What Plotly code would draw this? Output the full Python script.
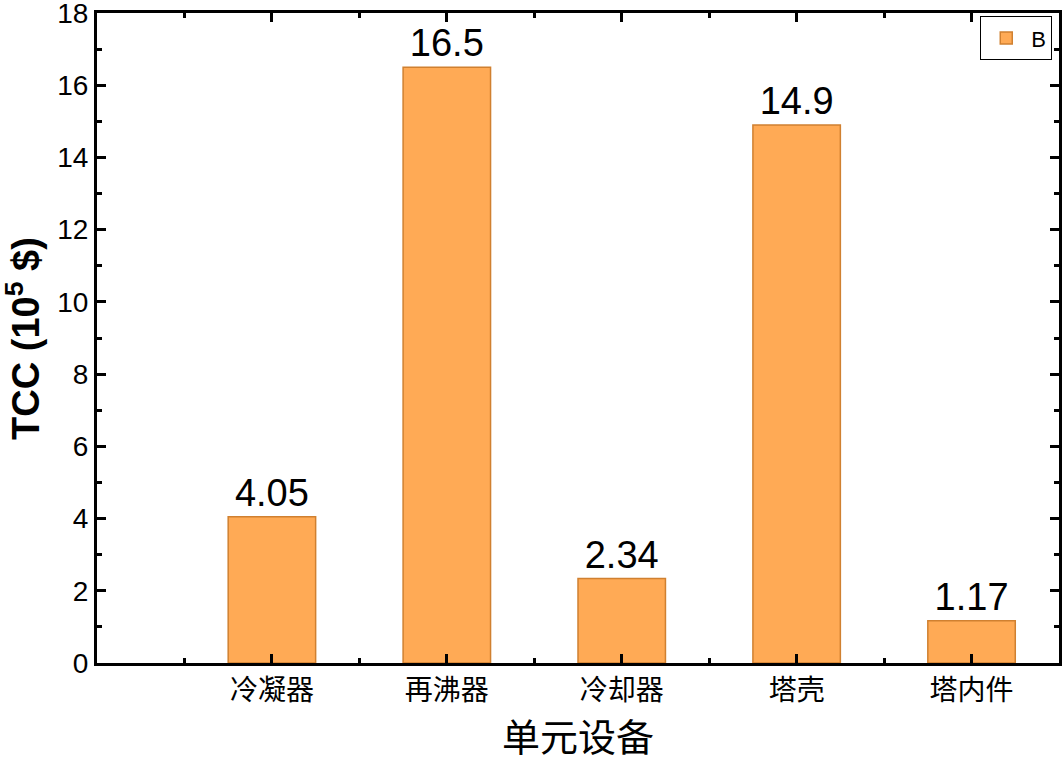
import plotly.graph_objects as go

categories = ['冷凝器', '再沸器', '冷却器', '塔壳', '塔内件']
positions = [1, 2, 3, 4, 5]
tcc = [4.05, 16.5, 2.34, 14.9, 1.17]
labels = ['4.05', '16.5', '2.34', '14.9', '1.17']

fig = go.Figure()
fig.add_trace(go.Bar(x=positions, y=tcc, name='B', width=0.5,
                     marker=dict(color='#FFAA55', line=dict(color='#D08030', width=1.5)),
                     text=labels, textposition='outside', cliponaxis=False,
                     textfont=dict(family='Liberation Sans, Arial', size=38, color='black')))

axis_common = dict(showline=True, linewidth=3, linecolor='black', mirror='ticks',
                   ticks='inside', ticklen=9, tickwidth=3, tickcolor='black',
                   showgrid=False, zeroline=False, automargin=False,
                   ticklabeloverflow='allow')

fig.update_xaxes(range=[0, 5.5], tickmode='array', tickvals=positions, ticktext=categories,
                 tickfont=dict(family='Noto Sans CJK SC', size=28, color='black'),
                 minor=dict(tickmode='array', tickvals=[0.5, 1.5, 2.5, 3.5, 4.5],
                            ticks='inside', ticklen=5, tickwidth=3, tickcolor='black'),
                 title=dict(text='单元设备', font=dict(family='Noto Sans CJK SC', size=38, color='black'),
                            standoff=22),
                 **axis_common)
fig.update_yaxes(range=[0, 18], tickmode='linear', tick0=0, dtick=2,
                 tickfont=dict(family='Liberation Sans, Arial', size=28, color='black'),
                 minor=dict(tickmode='linear', tick0=1, dtick=2,
                            ticks='inside', ticklen=5, tickwidth=3, tickcolor='black'),
                 **axis_common)

fig.add_annotation(text='<b>TCC (10<sup>5</sup> $)</b>', xref='paper', yref='paper',
                   x=-0.077, y=0.5, xanchor='center', yanchor='middle', textangle=-90,
                   showarrow=False,
                   font=dict(family='Liberation Sans, Arial', size=38, color='black'))

fig.update_layout(width=1063, height=762, plot_bgcolor='white', paper_bgcolor='white',
                  margin=dict(l=97, r=4, t=13, b=99), bargap=0.5,
                  showlegend=True,
                  legend=dict(x=0.993, y=0.995, xanchor='right', yanchor='top', itemwidth=40,
                              bordercolor='black', borderwidth=1, bgcolor='white',
                              font=dict(family='Liberation Sans, Arial', size=22, color='black')))

fig.write_html("out.html", post_script="document.body.style.margin='0';",
               config={'displayModeBar': False})
